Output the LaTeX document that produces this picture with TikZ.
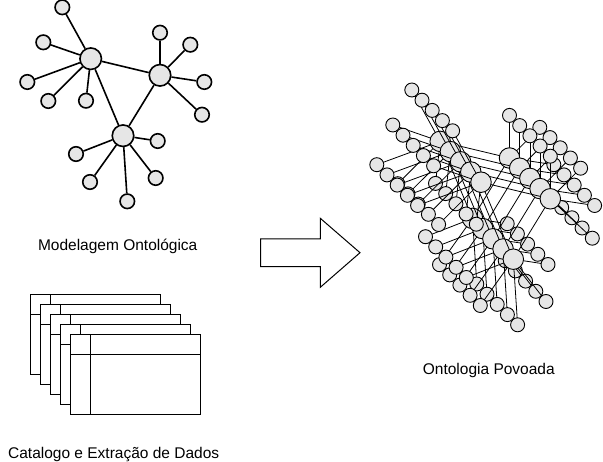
\documentclass[tikz,border=0pt]{standalone}
\usepackage{fontspec}
\setmainfont{Liberation Sans}
\usetikzlibrary{positioning, backgrounds}
\definecolor{nodegray}{HTML}{E6E6E6}
\tikzstyle{hub} = [circle, draw=black, line width=1.6pt, fill=nodegray, minimum size=21.5pt, inner sep=0pt]
\tikzstyle{leaf} = [circle, draw=black, line width=1.6pt, fill=nodegray, minimum size=14.5pt, inner sep=0pt]
\tikzstyle{link} = [draw=black, line width=1.6pt]
\tikzstyle{phub} = [circle, draw=black, line width=0.9pt, fill=nodegray, minimum size=20.5pt, inner sep=0pt]
\tikzstyle{pleaf} = [circle, draw=black, line width=0.9pt, fill=nodegray, minimum size=14pt, inner sep=0pt]
\tikzstyle{plink} = [draw=black, line width=0.8pt]
\tikzstyle{docbox} = [rectangle, draw=black, fill=white, line width=1pt, minimum width=130pt, minimum height=80pt, inner sep=0pt, anchor=north west]
\tikzstyle{txt} = [font=\fontsize{15.5}{18}\selectfont, anchor=base]

\begin{document}
\begin{tikzpicture}[x=1pt, y=-1pt]
    \useasboundingbox (0,0) rectangle (603,462);

    % Ontology model
    \foreach \n/\x/\y in {A/90.7/58.7, B/160/75.3, C/123/135.7}
        \node[hub] (\n) at (\x,\y) {};
    \foreach \n/\x/\y in {a1/62.3/7.3, a2/43.3/42.3, a3/27.3/82, a4/48.3/101, a5/86/100.7,
                          b1/160/32.7, b2/190.3/44.7, b3/204.3/82, b4/202/114.7,
                          c1/157.7/141, c2/76/154, c3/90/182, c4/155.7/178, c5/127.3/201.3}
        \node[leaf] (\n) at (\x,\y) {};
    \begin{scope}[on background layer]
        \draw[link] (A) -- (B) (A) -- (C) (B) -- (C);
        \foreach \n/\h in {a1/A, a2/A, a3/A, a4/A, a5/A, b1/B, b2/B, b3/B, b4/B,
                           c1/C, c2/C, c3/C, c4/C, c5/C}
            \draw[link] (\h) -- (\n);
    \end{scope}
    \node[txt] (model) at (117.7,250.5) {Modelagem Ontológica};

    % Catalog sheets
    \foreach \k in {0,...,4} {
        \node[docbox] (doc\k) at ({30.3+10*\k},{294.3+10*\k}) {};
        \draw[line width=1pt] ([xshift=20pt]doc\k.north west) -- ([xshift=20pt]doc\k.south west);
        \draw[line width=1pt] ([yshift=-20pt]doc\k.north west) -- ([yshift=-20pt]doc\k.north east);
    }
    \node[txt] (catalog) at (113.7,459) {Catalogo e Extração de Dados};

    % Block arrow
    \draw[line width=1pt, fill=white] (260.7,239) -- (320.3,239) -- (320.3,218.3) -- (360,252.7)
        -- (320.3,287.3) -- (320.3,266.7) -- (260.7,266.7) -- cycle;

    % Populated ontology: five instances
    \foreach \k in {0,...,4} {
        \begin{scope}[shift={({349.5+10.2*\k},{82.7+10.2*\k})}]
            \foreach \n/\x/\y in {A/90.7/58.7, B/160/75.3, C/123/135.7,
                                  a1/62.3/7.3, a2/43.3/42.3, a3/27.3/82, a4/48.3/101, a5/86/100.7,
                                  b1/160/32.7, b2/190.3/44.7, b3/204.3/82, b4/202/114.7,
                                  c1/157.7/141, c2/76/154, c3/90/182, c4/155.7/178, c5/127.3/201.3}
                \coordinate (\n-\k) at (\x,\y);
            \draw[plink] (A-\k) -- (B-\k) -- (C-\k) -- (A-\k);
            \foreach \n/\h in {a1/A, a2/A, a3/A, a4/A, a5/A, b1/B, b2/B, b3/B, b4/B,
                               c1/C, c2/C, c3/C, c4/C, c5/C}
                \draw[plink] (\h-\k) -- (\n-\k);
            \foreach \n in {a1, a2, a3, a4, a5, b1, b2, b3, b4, c1, c2, c3, c4, c5}
                \node[pleaf] (p\n-\k) at (\n-\k) {};
            \foreach \n in {A, B, C}
                \node[phub] (p\n-\k) at (\n-\k) {};
        \end{scope}
    }
    \node[txt] (populated) at (488.8,374.5) {Ontologia Povoada};
\end{tikzpicture}
\end{document}
